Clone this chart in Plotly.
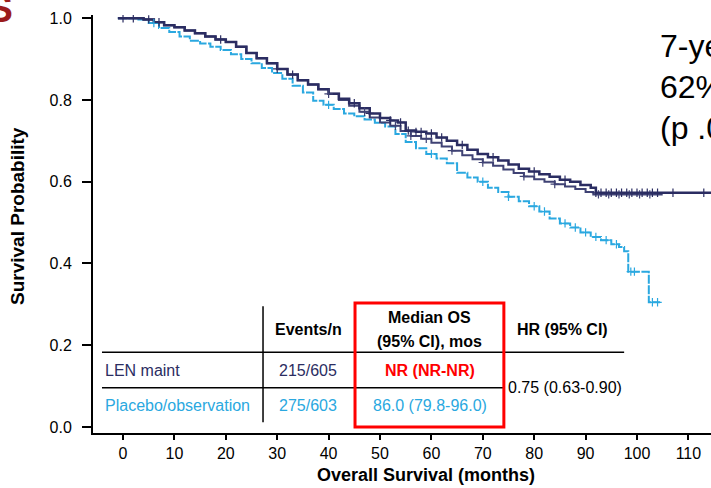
import numpy as np
import plotly.graph_objects as go

# Kaplan-Meier step estimates: time (months) and survival probability
len_t = [-1, 2, 4, 6, 8, 10, 12, 14, 16, 18, 20, 22, 24, 26, 28, 30, 32, 34, 36, 38,
         40, 42, 44, 46, 48, 50, 52, 53.5, 55, 57, 59, 61, 63, 65, 67, 69, 71, 73, 75,
         77, 79, 81, 83, 85, 87, 89, 91, 92, 114.5]
len_s = [1.0, 1.0, 0.997, 0.99, 0.983, 0.978, 0.97, 0.963, 0.955, 0.948, 0.942, 0.93,
         0.915, 0.902, 0.89, 0.876, 0.862, 0.848, 0.838, 0.826, 0.815, 0.803, 0.792,
         0.78, 0.767, 0.756, 0.75, 0.745, 0.725, 0.722, 0.718, 0.708, 0.70, 0.69, 0.678,
         0.668, 0.66, 0.652, 0.642, 0.632, 0.625, 0.618, 0.612, 0.605, 0.60, 0.592,
         0.585, 0.573, 0.573]

# second LEN trace (updated data cut), diverging slightly after ~45 months
len2_t = [-1, 2, 4, 6, 8, 10, 12, 14, 16, 18, 20, 22, 24, 26, 28, 30, 32, 34, 36, 38,
          40, 42, 44, 46, 48, 50, 52, 54, 56, 58, 60, 62, 64, 66, 68, 70, 72, 74, 76,
          78, 80, 82, 84, 86, 88, 90, 91.5, 105]
len2_s = [1.0, 1.0, 0.997, 0.99, 0.983, 0.978, 0.97, 0.963, 0.955, 0.948, 0.942, 0.93,
          0.915, 0.902, 0.89, 0.876, 0.862, 0.848, 0.838, 0.826, 0.815, 0.80, 0.786,
          0.771, 0.757, 0.745, 0.737, 0.724, 0.712, 0.705, 0.695, 0.686, 0.676, 0.665,
          0.655, 0.647, 0.639, 0.63, 0.621, 0.613, 0.606, 0.60, 0.594, 0.588, 0.582,
          0.575, 0.569, 0.569]

pbo_t = [-1, 3, 5, 7, 9, 11, 13, 15, 17, 19, 21, 23, 25, 27, 29, 31, 33, 35, 37, 39,
         41, 43, 45, 47, 49, 51, 53, 55, 57, 59, 61, 63, 65, 67, 69, 71, 73, 75, 77, 79,
         81, 83, 85, 87, 89, 91, 93, 95, 96.5, 97.5, 98.3, 102.3, 104.5]
pbo_s = [1.0, 0.997, 0.988, 0.976, 0.966, 0.955, 0.945, 0.938, 0.93, 0.922, 0.912, 0.90,
         0.89, 0.878, 0.866, 0.852, 0.835, 0.818, 0.798, 0.788, 0.778, 0.767, 0.76,
         0.752, 0.744, 0.735, 0.717, 0.697, 0.682, 0.668, 0.657, 0.645, 0.622, 0.61,
         0.60, 0.585, 0.575, 0.563, 0.552, 0.54, 0.527, 0.51, 0.498, 0.488, 0.476,
         0.465, 0.457, 0.447, 0.44, 0.43, 0.38, 0.305, 0.305]

# censoring times
len_cens = [0, 2, 5, 7, 19, 30, 33, 45, 48, 52, 54, 55.5, 57, 58, 60, 62, 66, 72, 80,
            86, 92, 93, 94, 95, 96, 97, 98, 99, 100, 101, 102, 103, 104, 107, 113]
len2_cens = [40, 47, 53, 56, 59, 64, 70, 78, 84, 92.5, 94.5, 96.5, 98.5, 100.5, 102.5]
pbo_cens = [6, 40, 60, 70, 75, 80, 82, 86, 88, 90, 92, 94, 96, 98.8, 99.5, 103, 104]

x_ticks = list(range(0, 111, 10))
y_ticks = [0.0, 0.2, 0.4, 0.6, 0.8, 1.0]

# summary table
arms = ["LEN maint", "Placebo/observation"]
events_n = ["215/605", "275/603"]
median_os = ["NR (NR-NR)", "86.0 (79.8-96.0)"]
hr_ci = "0.75 (0.63-0.90)"
side_lines = ["7-year OS", "62% vs 50%", "(p .001)"]

NAVY = "#2B2D62"
NAVY2 = "#3F4274"
BLUE = "#2AA8E0"
RED = "#FF0000"
FONT = "Liberation Sans, Arial, sans-serif"

W, H = 711, 488
ML, MR, MT, MB = 93, 0, 15, 55
PW, PH = W - ML - MR, H - MT - MB


def px_x(px):
    return (px - ML) / PW


def px_y(py):
    return (H - MB - py) / PH


def step_at(t_arr, s_arr, t):
    idx = np.searchsorted(np.asarray(t_arr), t, side="right") - 1
    return np.asarray(s_arr)[np.clip(idx, 0, len(s_arr) - 1)]


fig = go.Figure()

fig.add_trace(go.Scatter(x=pbo_t, y=pbo_s, mode="lines", line_shape="hv",
                         line=dict(color=BLUE, width=2, dash="9px,1.5px")))
fig.add_trace(go.Scatter(x=len2_t, y=len2_s, mode="lines", line_shape="hv",
                         line=dict(color=NAVY2, width=2)))
fig.add_trace(go.Scatter(x=len_t, y=len_s, mode="lines", line_shape="hv",
                         line=dict(color=NAVY, width=2.5)))

for ct, (tt, ss), col in [(pbo_cens, (pbo_t, pbo_s), BLUE),
                          (len2_cens, (len2_t, len2_s), NAVY2),
                          (len_cens, (len_t, len_s), NAVY)]:
    fig.add_trace(go.Scatter(x=ct, y=step_at(tt, ss, ct), mode="markers",
                             marker=dict(symbol="cross-thin-open", size=6, color=col,
                                         line=dict(color=col, width=1.2))))

# table rules
line_k = dict(color="black", width=1.5)
fig.add_shape(type="line", x0=27.24, x1=27.24, y0=0.0115, y1=0.2955, line=line_k)
fig.add_shape(type="line", x0=-4.09, x1=97.5, y0=0.183, y1=0.183, line=line_k)
fig.add_shape(type="line", x0=-4.09, x1=74.3, y0=0.096, y1=0.096, line=line_k)
fig.add_shape(type="rect", x0=45.14, x1=74.1, y0=0.0, y1=0.303,
              line=dict(color=RED, width=3))

ann = []


def txt(x, y, s, size=16, color="black", bold=False, xanchor="center", **kw):
    ann.append(dict(x=x, y=y, text=f"<b>{s}</b>" if bold else s, showarrow=False,
                    xanchor=xanchor, yanchor="middle",
                    font=dict(size=size, color=color, family=FONT), **kw))


txt(36.0, 0.239, "Events/n", bold=True)
txt(59.7, 0.2686, "Median OS", bold=True)
txt(59.7, 0.21, "(95% CI), mos", bold=True)
txt(85.6, 0.239, "HR (95% CI)", bold=True)

row_y = [0.1388, 0.0531]
row_col = [NAVY, BLUE]
for i in range(2):
    txt(-3.95, row_y[i], arms[i], color=row_col[i], xanchor="left")
    txt(36.0, row_y[i], events_n[i], color=row_col[i])
txt(59.7, row_y[0], median_os[0], color=RED, bold=True)
txt(59.7, row_y[1], median_os[1], color=BLUE)
txt(74.6, 0.097, hr_ci, xanchor="left")

# axis titles and side text in paper coordinates
ann.append(dict(xref="paper", yref="paper", x=px_x(426), y=px_y(475),
                text="<b>Overall Survival (months)</b>", showarrow=False,
                xanchor="center", yanchor="middle",
                font=dict(size=18, color="black", family=FONT)))
ann.append(dict(xref="paper", yref="paper", x=px_x(17), y=px_y(216),
                text="<b>Survival Probability</b>", showarrow=False, textangle=-90,
                xanchor="center", yanchor="middle",
                font=dict(size=19, color="black", family=FONT)))
for s, py in zip(side_lines, [46, 87, 128]):
    ann.append(dict(xref="paper", yref="paper", x=px_x(658), y=px_y(py), text=s,
                    showarrow=False, xanchor="left", yanchor="middle",
                    font=dict(size=32, color="black", family=FONT)))
ann.append(dict(xref="paper", yref="paper", x=px_x(15), y=px_y(9), text="<b>OS</b>",
                showarrow=False, xanchor="right", yanchor="middle",
                font=dict(size=38, color="#9B1C1C", family=FONT)))

fig.update_layout(
    width=W, height=H,
    margin=dict(l=ML, r=MR, t=MT, b=MB, pad=0),
    paper_bgcolor="white", plot_bgcolor="white",
    showlegend=False,
    annotations=ann,
    font=dict(family=FONT, color="black"),
)
fig.update_xaxes(range=[-5.84, 114.4], tickvals=x_ticks, showgrid=False, zeroline=False,
                 showline=True, linecolor="black", linewidth=2,
                 ticks="outside", ticklen=5, tickwidth=1.5, tickcolor="black",
                 tickfont=dict(size=16, color="black", family=FONT),
                 ticklabelstandoff=0)
fig.update_yaxes(range=[-0.0147, 1.0078], tickvals=y_ticks, tickformat=".1f",
                 showgrid=False, zeroline=False,
                 showline=True, linecolor="black", linewidth=2,
                 ticks="outside", ticklen=9, tickwidth=1.5, tickcolor="black",
                 tickfont=dict(size=16, color="black", family=FONT),
                 ticklabelstandoff=7)

fig.write_html("out.html")
